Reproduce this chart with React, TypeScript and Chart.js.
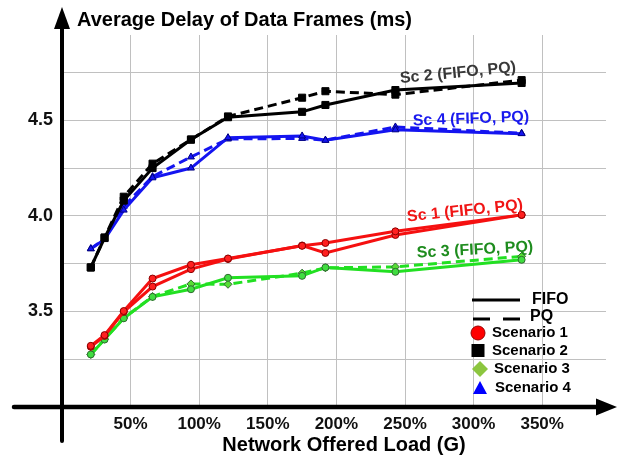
import React, { useEffect, useRef } from "react";
import { Chart, registerables } from "chart.js";

Chart.register(...registerables);

// Network offered load (%)
const loads = [21, 31, 45, 66, 94, 121, 175, 192, 243, 335];

// Average delay of data frames (ms)
const sc1Fifo = [3.32, 3.376, 3.502, 3.672, 3.744, 3.777, 3.843, 3.858, 3.919, 4.005];
const sc1Pq = [3.315, 3.372, 3.498, 3.63, 3.721, 3.774, 3.845, 3.806, 3.9, 4.005];
const sc2Fifo = [3.73, 3.884, 4.08, 4.25, 4.399, 4.516, 4.544, 4.58, 4.658, 4.695];
const sc2Pq = [3.73, 3.887, 4.1, 4.273, 4.399, 4.52, 4.618, 4.652, 4.634, 4.71];
const sc3Fifo = [3.275, 3.353, 3.464, 3.576, 3.616, 3.676, 3.686, 3.73, 3.707, 3.77];
const sc3Pq = [3.275, 3.355, 3.466, 3.578, 3.644, 3.642, 3.7, 3.728, 3.733, 3.788];
const sc4Fifo = [3.828, 3.876, 4.03, 4.199, 4.25, 4.409, 4.418, 4.395, 4.45, 4.43];
const sc4Pq = [3.828, 3.878, 4.05, 4.205, 4.308, 4.402, 4.405, 4.396, 4.465, 4.432];

const xTickValues = [0, 50, 100, 150, 200, 250, 300, 350];
const yLabelledTicks = [3.5, 4.0, 4.5];

const seriesLabels = ["Sc 1 (FIFO, PQ)", "Sc 2 (FIFO, PQ)", "Sc 3 (FIFO, PQ)", "Sc 4 (FIFO, PQ)"];
const legendNames = ["Scenario 1", "Scenario 2", "Scenario 3", "Scenario 4"];

const FONT = "'Liberation Sans', Arial, Helvetica, sans-serif";

const RED = "#f51010";
const GREEN = "#22e022";
const BLUE = "#1414f0";
const BLACK = "#000000";

const pts = (ys: number[]) => loads.map((x, i) => ({ x, y: ys[i] }));

const decorPlugin = {
  id: "decor",
  afterDraw(chart: any) {
    const { ctx, scales } = chart;
    const xs = scales.x;
    const ys = scales.y;
    const x0 = xs.getPixelForValue(0);
    const y0 = ys.getPixelForValue(3);
    ctx.save();
    ctx.strokeStyle = "#000";
    ctx.fillStyle = "#000";
    ctx.lineCap = "round";
    // x axis
    ctx.lineWidth = 4.5;
    ctx.beginPath();
    ctx.moveTo(14, y0);
    ctx.lineTo(600, y0);
    ctx.stroke();
    ctx.beginPath();
    ctx.moveTo(617, y0);
    ctx.lineTo(596, y0 - 8.5);
    ctx.lineTo(596, y0 + 8.5);
    ctx.closePath();
    ctx.fill();
    // y axis
    ctx.lineWidth = 4;
    ctx.beginPath();
    ctx.moveTo(x0, 441);
    ctx.lineTo(x0, 24);
    ctx.stroke();
    ctx.beginPath();
    ctx.moveTo(x0, 7);
    ctx.lineTo(x0 - 8, 29);
    ctx.lineTo(x0 + 8, 29);
    ctx.closePath();
    ctx.fill();

    // titles
    ctx.textBaseline = "middle";
    ctx.textAlign = "left";
    ctx.font = `bold 20px ${FONT}`;
    ctx.fillText("Average Delay of Data Frames (ms)", 77, 20);
    ctx.textAlign = "center";
    ctx.fillText("Network Offered Load (G)", 344, 445);

    // series annotations
    const ann = [
      { t: seriesLabels[1], x: 458, y: 73, a: -5.5, c: "#383838" },
      { t: seriesLabels[3], x: 471, y: 119, a: -2, c: "#1a1aee" },
      { t: seriesLabels[0], x: 465, y: 211, a: -6, c: "#f01515" },
      { t: seriesLabels[2], x: 475, y: 250, a: -3, c: "#1e8c1e" },
    ];
    ctx.font = `bold 16px ${FONT}`;
    for (const l of ann) {
      ctx.save();
      ctx.translate(l.x, l.y);
      ctx.rotate((l.a * Math.PI) / 180);
      ctx.fillStyle = l.c;
      ctx.fillText(l.t, 0, 0);
      ctx.restore();
    }

    // legend
    ctx.textAlign = "left";
    ctx.fillStyle = "#000";
    ctx.strokeStyle = "#000";
    ctx.lineCap = "butt";
    ctx.lineWidth = 3;
    ctx.beginPath();
    ctx.moveTo(472, 300);
    ctx.lineTo(520, 300);
    ctx.stroke();
    ctx.beginPath();
    ctx.moveTo(473, 319);
    ctx.lineTo(490, 319);
    ctx.moveTo(503, 319);
    ctx.lineTo(520, 319);
    ctx.stroke();
    ctx.font = `bold 16px ${FONT}`;
    ctx.fillText("FIFO", 532, 300);
    ctx.fillText("PQ", 530, 317);

    ctx.font = `bold 15px ${FONT}`;
    // Scenario 1 circle
    ctx.beginPath();
    ctx.arc(478, 333, 7, 0, Math.PI * 2);
    ctx.fillStyle = "#ff0000";
    ctx.fill();
    ctx.lineWidth = 1;
    ctx.strokeStyle = "#990000";
    ctx.stroke();
    ctx.fillStyle = "#000";
    ctx.fillText(legendNames[0], 492, 333);
    // Scenario 2 square
    ctx.fillRect(471.5, 344, 13, 13);
    ctx.fillText(legendNames[1], 492, 351);
    // Scenario 3 diamond
    ctx.beginPath();
    ctx.moveTo(480, 361);
    ctx.lineTo(488, 369);
    ctx.lineTo(480, 377);
    ctx.lineTo(472, 369);
    ctx.closePath();
    ctx.fillStyle = "#8cc63f";
    ctx.fill();
    ctx.fillStyle = "#000";
    ctx.fillText(legendNames[2], 494, 369);
    // Scenario 4 triangle
    ctx.beginPath();
    ctx.moveTo(480, 381);
    ctx.lineTo(487, 394);
    ctx.lineTo(473, 394);
    ctx.closePath();
    ctx.fillStyle = "#0000ff";
    ctx.fill();
    ctx.fillStyle = "#000";
    ctx.fillText(legendNames[3], 495, 388);

    ctx.restore();
  },
};

export default function App() {
  const ref = useRef<HTMLCanvasElement>(null);

  useEffect(() => {
    const canvas = ref.current;
    if (!canvas) return;
    const common = { borderWidth: 3, tension: 0, pointBorderWidth: 1 };
    const chart = new Chart(canvas, {
      type: "line",
      data: {
        datasets: [
          {
            ...common,
            label: "Sc 1 FIFO",
            data: pts(sc1Fifo),
            borderColor: RED,
            pointStyle: "circle",
            pointRadius: 3.5,
            pointBackgroundColor: "#ff2020",
            pointBorderColor: "#8a0000",
          },
          {
            ...common,
            label: "Sc 1 PQ",
            data: pts(sc1Pq),
            borderColor: RED,
            pointStyle: "circle",
            pointRadius: 3.5,
            pointBackgroundColor: "#ff2020",
            pointBorderColor: "#8a0000",
          },
          {
            ...common,
            label: "Sc 3 FIFO",
            data: pts(sc3Fifo),
            borderColor: GREEN,
            pointStyle: "circle",
            pointRadius: 3.5,
            pointBackgroundColor: "#40dd40",
            pointBorderColor: "#2f6a2f",
          },
          {
            ...common,
            label: "Sc 3 PQ",
            data: pts(sc3Pq),
            borderColor: GREEN,
            borderDash: [9, 5],
            pointStyle: "rectRot",
            pointRadius: 4,
            pointBackgroundColor: "#55dd33",
            pointBorderColor: "#2f6a2f",
          },
          {
            ...common,
            label: "Sc 2 FIFO",
            data: pts(sc2Fifo),
            borderColor: BLACK,
            pointStyle: "rect",
            pointRadius: 5,
            pointBackgroundColor: BLACK,
            pointBorderColor: BLACK,
          },
          {
            ...common,
            label: "Sc 2 PQ",
            data: pts(sc2Pq),
            borderColor: BLACK,
            borderDash: [9, 5],
            pointStyle: "rect",
            pointRadius: 5,
            pointBackgroundColor: BLACK,
            pointBorderColor: BLACK,
          },
          {
            ...common,
            label: "Sc 4 FIFO",
            data: pts(sc4Fifo),
            borderColor: BLUE,
            pointStyle: "triangle",
            pointRadius: 4,
            pointBackgroundColor: BLUE,
            pointBorderColor: "#000080",
          },
          {
            ...common,
            label: "Sc 4 PQ",
            data: pts(sc4Pq),
            borderColor: BLUE,
            borderDash: [9, 5],
            pointStyle: "triangle",
            pointRadius: 4,
            pointBackgroundColor: BLUE,
            pointBorderColor: "#000080",
          },
        ],
      },
      options: {
        animation: false,
        responsive: false,
        layout: { padding: { top: 35, right: 11, left: 0, bottom: 0 } },
        plugins: {
          legend: { display: false },
          tooltip: { enabled: false },
          title: { display: false },
        },
        scales: {
          x: {
            type: "linear",
            min: 0,
            max: 396.5,
            afterFit: (s: any) => {
              s.height = 50;
            },
            afterBuildTicks: (s: any) => {
              s.ticks = xTickValues.map((v) => ({ value: v }));
            },
            border: { display: false },
            grid: { color: "#c0c0c0", lineWidth: 1, drawTicks: false },
            ticks: {
              padding: 7,
              autoSkip: false,
              maxRotation: 0,
              color: "#111",
              font: { family: FONT, size: 17, weight: "bold" },
              callback: (v: any) => (Number(v) === 0 ? "" : `${v}%`),
            },
          },
          y: {
            type: "linear",
            min: 3,
            max: 4.946,
            afterFit: (s: any) => {
              s.width = 62;
            },
            border: { display: false },
            grid: { color: "#c0c0c0", lineWidth: 1, drawTicks: false },
            ticks: {
              stepSize: 0.25,
              includeBounds: false,
              padding: 9,
              autoSkip: false,
              color: "#111",
              font: { family: FONT, size: 18, weight: "bold" },
              callback: (v: any) => {
                const n = Number(v);
                return yLabelledTicks.some((t) => Math.abs(t - n) < 1e-6) ? n.toFixed(1) : "";
              },
            },
          },
        },
      },
      plugins: [decorPlugin],
    } as any);
    return () => chart.destroy();
  }, []);

  return (
    <div style={{ position: "fixed", left: 0, top: 0, width: 617, height: 457, background: "#fff" }}>
      <canvas ref={ref} width={617} height={457} style={{ display: "block" }} />
    </div>
  );
}
